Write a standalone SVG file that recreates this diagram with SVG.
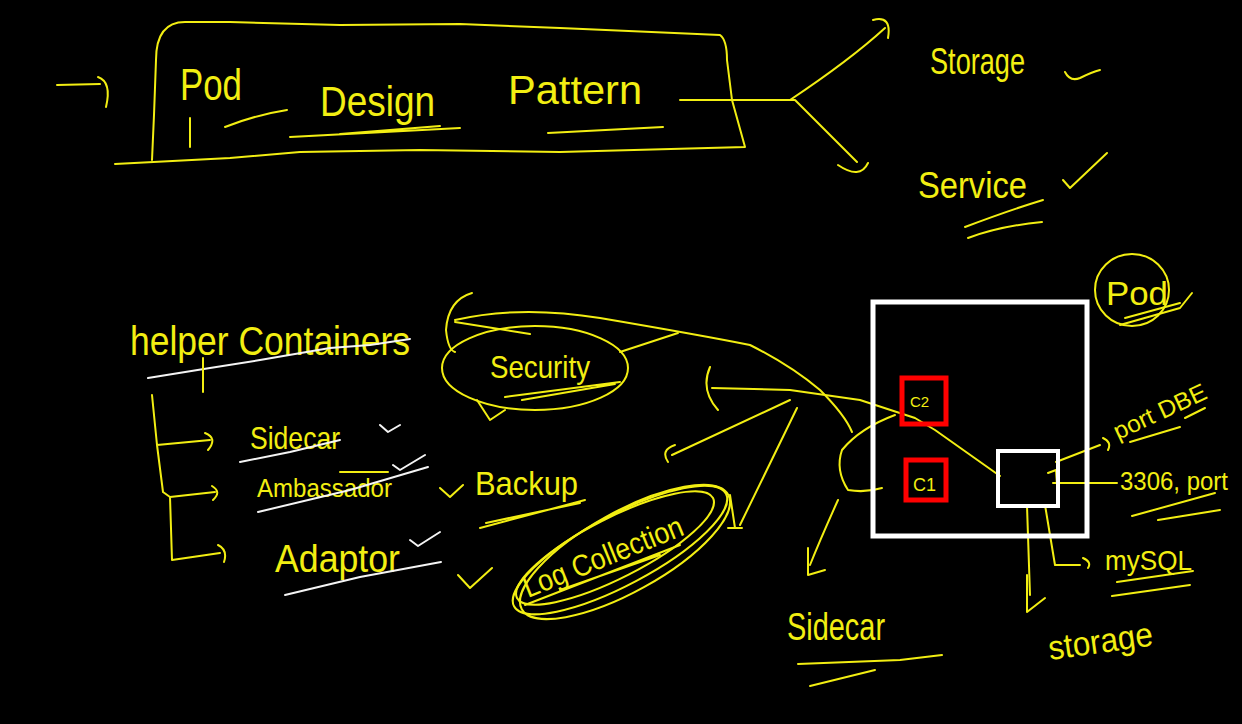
<svg xmlns="http://www.w3.org/2000/svg" width="1242" height="724" viewBox="0 0 1242 724">
<style>
.y{fill:none;stroke:#f2ee12;stroke-width:2;stroke-linecap:round;stroke-linejoin:round}
.w{fill:none;stroke:#f4f4f4;stroke-width:2;stroke-linecap:round;stroke-linejoin:round}
.t{fill:#f2ee12;font-family:"Liberation Sans","DejaVu Sans",sans-serif}
.box{fill:none;stroke:#ffffff;stroke-width:5}
.red{fill:none;stroke:#ff0000;stroke-width:5}
</style>
<rect width="1242" height="724" fill="#000"/>

<g id="title">
<path class="y" d="M152,160 L154,115 L156,60 Q156,22 185,22 L230,22 L340,25 L460,24 L560,28 L720,35 Q727,40 727,60 L732,100 L745,147 L560,152 L420,150 L300,152 L230,158 L115,164"/>
<text class="t" x="180" y="100" font-size="44" textLength="62" lengthAdjust="spacingAndGlyphs">Pod</text>
<path class="y" d="M190,118 L190,147 M225,127 Q255,115 287,110"/>
<text class="t" x="320" y="116" font-size="42" textLength="115" lengthAdjust="spacingAndGlyphs">Design</text>
<path class="y" d="M290,137 L460,128 M340,134 L440,126"/>
<text class="t" x="508" y="104" font-size="40" textLength="134" lengthAdjust="spacingAndGlyphs">Pattern</text>
<path class="y" d="M548,133 L663,127"/>
</g>
<g id="entry-arrow">
<path class="y" d="M57,85 L100,84 M98,77 Q112,82 106,107"/>
</g>
<g id="storage-top">
<text class="t" x="930" y="74" font-size="36" textLength="95" lengthAdjust="spacingAndGlyphs">Storage</text>
<path class="y" d="M1065,72 Q1070,82 1080,78 Q1092,72 1100,70"/>
</g>
<g id="service-top">
<text class="t" x="918" y="198" font-size="36" textLength="109" lengthAdjust="spacingAndGlyphs">Service</text>
<path class="y" d="M1063,180 L1070,188 L1107,153 M965,227 Q1010,210 1043,200 M968,238 Q1000,226 1042,222"/>
</g>

<g id="helper">
<text class="t" x="130" y="355" font-size="40" textLength="280" lengthAdjust="spacingAndGlyphs">helper Containers</text>
<path class="w" d="M148,378 L210,368 L260,360 L330,348 L370,345 L410,339"/>
<path class="y" d="M203,358 L203,392"/>
<path class="y" d="M152,395 L157,445 L210,440 M205,433 Q218,438 208,450 M157,445 L163,492 L170,497 L215,492 M212,486 Q222,492 213,500 M170,497 L172,560 L220,553 M218,545 Q228,550 224,562"/>
</g>
<g id="sidecar-item">
<text class="t" x="250" y="449" font-size="32" textLength="90" lengthAdjust="spacingAndGlyphs">Sidecar</text>
<path class="w" d="M240,462 L290,452 L340,440 M380,425 L388,432 L400,425"/>
</g>
<g id="ambassador-item">
<text class="t" x="257" y="497" font-size="26" textLength="135" lengthAdjust="spacingAndGlyphs">Ambassador</text>
<path class="y" d="M340,472 L388,472"/>
<path class="w" d="M258,512 L350,490 L428,467 M393,465 L400,470 L425,455"/>
</g>
<g id="adaptor-item">
<text class="t" x="275" y="572" font-size="38" textLength="125" lengthAdjust="spacingAndGlyphs">Adaptor</text>
<path class="w" d="M285,595 L360,577 L441,562 M410,540 L418,546 L440,532"/>
</g>

<g id="security">
<ellipse class="y" cx="535" cy="368" rx="93" ry="42"/>
<text class="t" x="490" y="378" font-size="32" textLength="100" lengthAdjust="spacingAndGlyphs">Security</text>
<path class="y" d="M505,397 L620,382 M522,400 L615,384 M477,400 L490,420 L505,410 M620,352 L678,333"/>
<path class="y" d="M472,293 Q448,300 446,330 Q448,350 455,352 M455,322 L530,334"/>
</g>
<g id="backup">
<text class="t" x="475" y="495" font-size="34" textLength="103" lengthAdjust="spacingAndGlyphs">Backup</text>
<path class="y" d="M480,528 L585,500 M486,523 L580,503 M440,488 L450,497 L463,485"/>
</g>
<g id="log-collection">
<ellipse class="y" cx="620" cy="550" rx="120" ry="35" transform="rotate(-28 620 550)"/>
<ellipse class="y" cx="615" cy="548" rx="110" ry="30" transform="rotate(-27 615 548)"/>
<ellipse class="y" cx="625" cy="552" rx="118" ry="40" transform="rotate(-29 625 552)"/>
<text class="t" x="528" y="598" font-size="30" transform="rotate(-22 528 598)" textLength="170" lengthAdjust="spacingAndGlyphs">Log Collection</text>
<path class="y" d="M525,605 L680,545 M560,590 L660,555 M458,575 L470,588 L492,568"/>
</g>

<g id="connectors">
<path class="y" d="M680,100 L795,100 M790,100 Q850,60 885,28 M873,20 Q892,15 888,38 M795,100 L857,162 M838,165 Q860,180 868,163"/>
<path class="y" d="M455,320 Q520,305 600,318 Q700,335 750,345 Q790,365 820,390 Q845,415 852,432"/>
<path class="y" d="M710,367 Q700,390 718,410 M712,388 L790,390 L860,400 L915,418 L935,430 L1000,476"/>
<path class="y" d="M790,400 L672,455 M675,445 Q660,450 668,462"/>
<path class="y" d="M797,408 L740,525 M730,495 L735,528 M728,528 L742,528"/>
<path class="y" d="M895,415 Q860,428 842,450 Q835,470 848,490 Q865,493 882,488"/>
<path class="y" d="M838,500 Q820,540 810,565 M808,548 L808,575 L825,570"/>
<path class="y" d="M1056,462 L1100,445 M1103,438 Q1112,442 1108,450 M1053,483 L1117,483 M1048,473 L1056,470 L1058,500 M1027,506 L1030,595 M1027,575 L1027,612 L1045,598 M1045,505 L1055,565 L1080,565 M1083,558 Q1092,562 1088,568"/>
</g>

<g id="pod-box">
<rect class="box" x="873" y="302" width="214" height="234"/>
</g>
<g id="c2">
<rect class="red" x="902" y="378" width="44" height="46"/>
<text class="t" x="910" y="407" font-size="15">C2</text>
</g>
<g id="c1">
<rect class="red" x="906" y="460" width="40" height="40"/>
<text class="t" x="913" y="491" font-size="18">C1</text>
</g>
<g id="sidecar-box">
<rect fill="none" stroke="#fff" stroke-width="4" x="998" y="451" width="60" height="55"/>
</g>

<g id="pod-label">
<ellipse class="y" cx="1132" cy="290" rx="37" ry="36"/>
<text class="t" x="1106" y="305" font-size="34" textLength="62" lengthAdjust="spacingAndGlyphs">Pod</text>
<path class="y" d="M1120,325 L1180,308 L1192,293 M1125,318 L1180,303"/>
</g>
<g id="port-dbe">
<text class="t" x="1118" y="440" font-size="24" transform="rotate(-25 1118 440)" textLength="100" lengthAdjust="spacingAndGlyphs">port DBE</text>
<path class="y" d="M1130,442 L1180,427 M1185,418 L1205,408"/>
</g>
<g id="port-3306">
<text class="t" x="1120" y="490" font-size="26" textLength="108" lengthAdjust="spacingAndGlyphs">3306, port</text>
<path class="y" d="M1132,516 L1215,493 M1158,520 L1220,510"/>
</g>
<g id="mysql">
<text class="t" x="1105" y="570" font-size="28" textLength="87" lengthAdjust="spacingAndGlyphs">mySQL</text>
<path class="y" d="M1117,582 L1193,571 M1112,596 L1190,585"/>
</g>
<g id="storage-bottom">
<text class="t" x="1050" y="660" font-size="34" transform="rotate(-8 1050 660)" textLength="105" lengthAdjust="spacingAndGlyphs">storage</text>
</g>
<g id="sidecar-bottom">
<text class="t" x="787" y="640" font-size="38" textLength="98" lengthAdjust="spacingAndGlyphs">Sidecar</text>
<path class="y" d="M798,664 L900,660 L942,655 M810,686 L875,670"/>
</g>
</svg>
